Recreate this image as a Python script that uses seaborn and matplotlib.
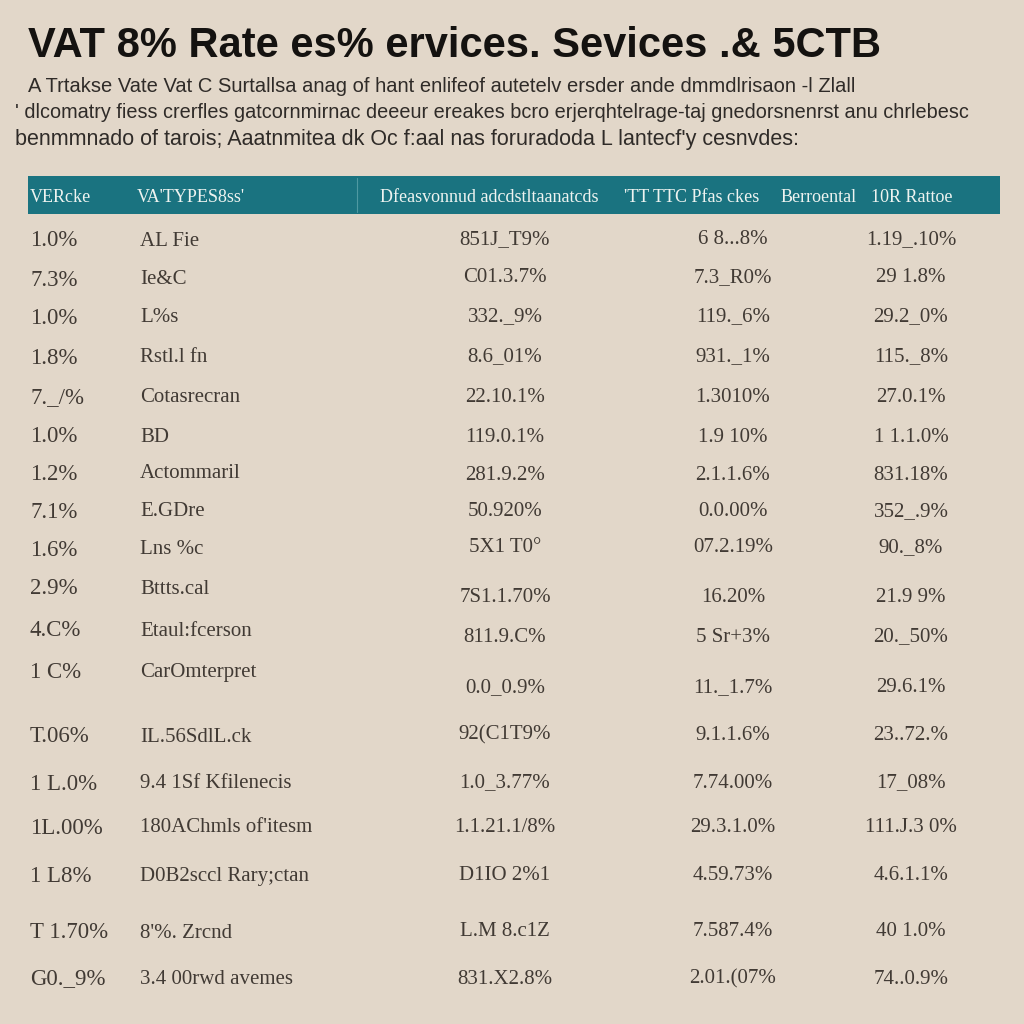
import matplotlib.pyplot as plt
import seaborn as sns

# page colours
BG = "#e2d7c9"
TEAL = "#1a7380"
INK = "#413a34"

sns.set_theme(style="white")
plt.rcParams["font.family"] = ["Liberation Serif", "DejaVu Serif"]

TITLE = "VAT 8% Rate es% ervices. Sevices .& 5CTB"
SUBTITLE = [
    "A Trtakse Vate Vat C Surtallsa anag of hant enlifeof autetelv ersder ande dmmdlrisaon -l Zlall",
    "' dlcomatry fiess crerfles gatcornmirnac deeeur ereakes bcro erjerqhtelrage-taj gnedorsnenrst anu chrlebesc",
    "benmmnado of tarois; Aaatnmitea dk Oc f:aal nas foruradoda L lantecf'y cesnvdes:",
]

# table contents, one list per column
headers = ["VERcke", "VA'TYPES8ss'", "Dfeasvonnud adcdstltaanatcds",
           "'TT TTC Pfas ckes", "Berroental", "10R Rattoe"]
rates = ["1.0%", "7.3%", "1.0%", "1.8%", "7._/%", "1.0%", "1.2%", "7.1%", "1.6%",
         "2.9%", "4.C%", "1 C%", "T.06%", "1 L.0%", "1L.00%", "1 L8%", "T 1.70%", "G0._9%"]
types = ["AL Fie", "Ie&C", "L%s", "Rstl.l fn", "Cotasrecran", "BD", "Actommaril",
         "E.GDre", "Lns %c", "Bttts.cal", "Etaul:fcerson", "CarOmterpret",
         "IL.56SdlL.ck", "9.4 1Sf Kfilenecis", "180AChmls of'itesm",
         "D0B2sccl Rary;ctan", "8'%. Zrcnd", "3.4 00rwd avemes"]
col_a = ["851J_T9%", "C01.3.7%", "332._9%", "8.6_01%", "22.10.1%", "119.0.1%",
         "281.9.2%", "50.920%", "5X1 T0°", "7S1.1.70%", "811.9.C%", "0.0_0.9%",
         "92(C1T9%", "1.0_3.77%", "1.1.21.1/8%", "D1IO 2%1", "L.M 8.c1Z", "831.X2.8%"]
col_b = ["6 8...8%", "7.3_R0%", "119._6%", "931._1%", "1.3010%", "1.9 10%",
         "2.1.1.6%", "0.0.00%", "07.2.19%", "16.20%", "5 Sr+3%", "11._1.7%",
         "9.1.1.6%", "7.74.00%", "29.3.1.0%", "4.59.73%", "7.587.4%", "2.01.(07%"]
col_c = ["1.19_.10%", "29 1.8%", "29.2_0%", "115._8%", "27.0.1%", "1 1.1.0%",
         "831.18%", "352_.9%", "90._8%", "21.9 9%", "20._50%", "29.6.1%",
         "23..72.%", "17_08%", "111.J.3 0%", "4.6.1.1%", "40 1.0%", "74..0.9%"]

# layout (pixel rows of the 1024 px page)
row_y = [241, 280, 318, 358, 398, 437, 474, 512, 550, 589, 631, 673,
         737, 784, 828, 876, 933, 979]
val_y = [240, 278, 317, 357, 397, 437, 475, 512, 548, 598, 637, 688,
         735, 783, 828, 875, 932, 979]

fig = plt.figure(figsize=(10.24, 10.24), dpi=100, facecolor=BG)
ax = fig.add_axes([0, 0, 1, 1])
ax.set_facecolor(BG)
ax.set_xlim(0, 1024)
ax.set_ylim(1024, 0)
ax.axis("off")

# title and description
sans = ["Liberation Sans", "DejaVu Sans"]
ax.text(28, 46, TITLE, fontsize=30, fontweight="bold", color="#141210",
        va="center", ha="left", family=sans)
sub_size = [14.5, 14.3, 15.5]
for i, line in enumerate(SUBTITLE):
    ax.text(15 if i else 28, 86 + i * 27, line, fontsize=sub_size[i],
            color="#2f2b28", va="center", ha="left", family=sans)

# header band
ax.fill_between([28, 1000], 176, 214, color=TEAL, lw=0)
ax.plot([357, 357], [178, 212], color="#4f99a2", lw=0.8)
head_x = [30, 137, 489, 692, 819, 912]
head_ha = ["left", "left", "center", "center", "center", "center"]
for x, ha, h in zip(head_x, head_ha, headers):
    ax.text(x, 198, h, fontsize=13, color="#eef3f0", ha=ha, va="center")

# body rows
for i in range(len(rates)):
    ax.text(30, row_y[i], rates[i], fontsize=16.5, color=INK, ha="left", va="center")
    ax.text(140, row_y[i], types[i], fontsize=15, color=INK, ha="left", va="center")
    ax.text(505, val_y[i], col_a[i], fontsize=15, color=INK, ha="center", va="center")
    ax.text(733, val_y[i], col_b[i], fontsize=15, color=INK, ha="center", va="center")
    ax.text(911, val_y[i], col_c[i], fontsize=15, color=INK, ha="center", va="center")

fig.savefig("out.png", dpi=100, facecolor=BG)
